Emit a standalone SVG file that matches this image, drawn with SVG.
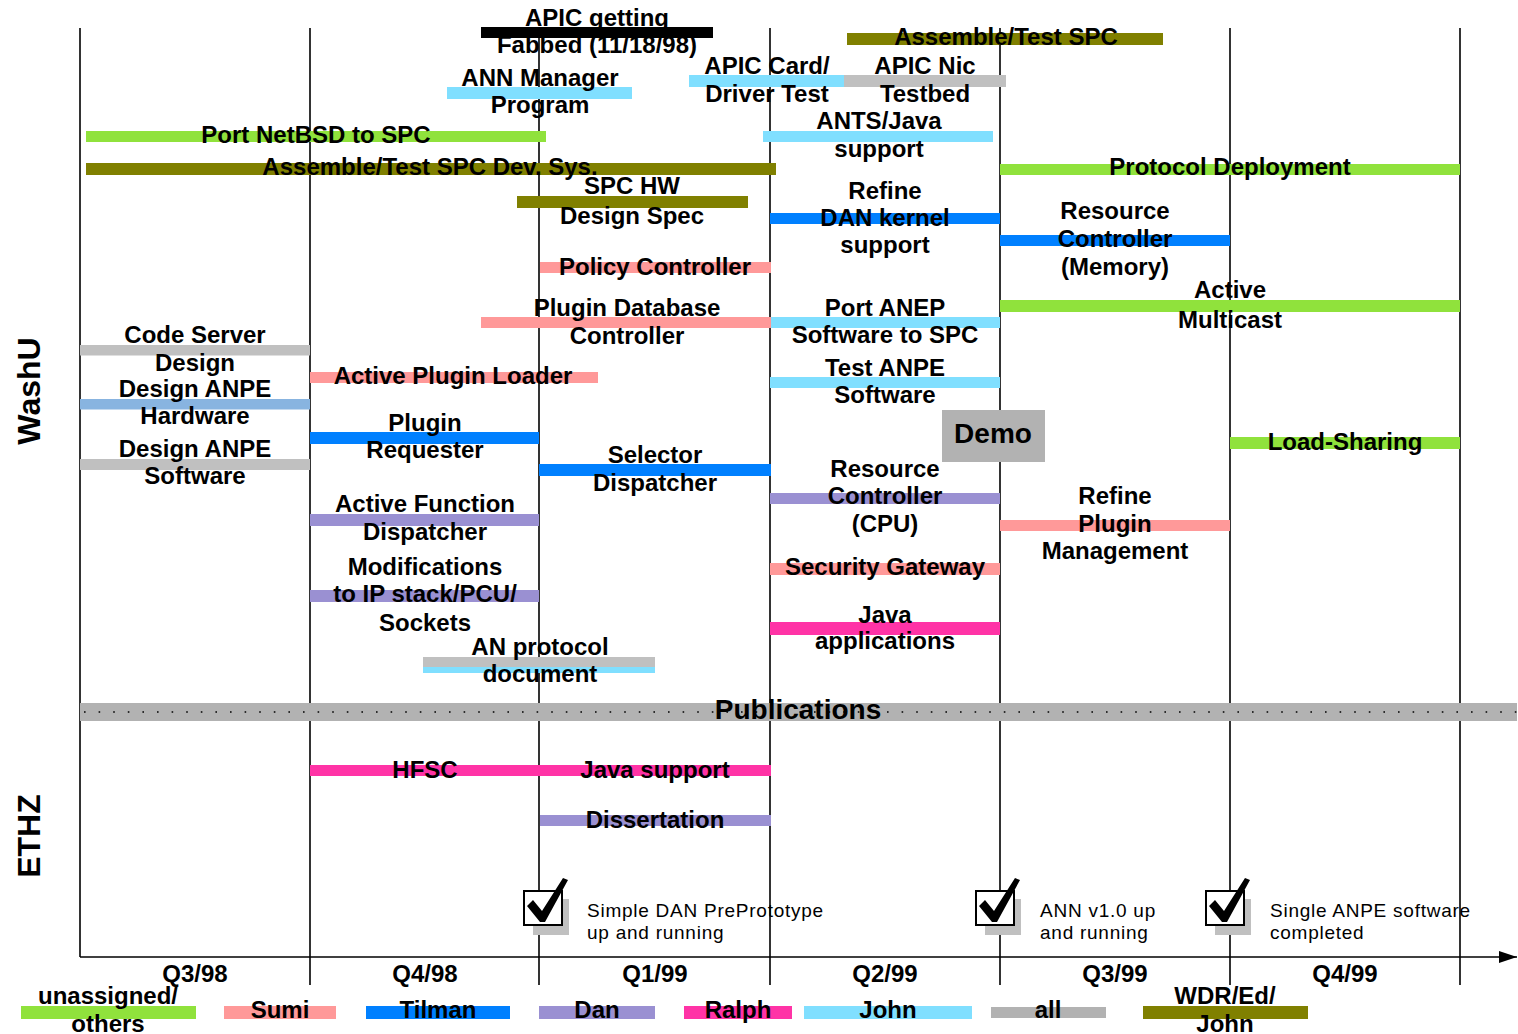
<svg xmlns="http://www.w3.org/2000/svg" xmlns:xlink="http://www.w3.org/1999/xlink" width="1518" height="1034" viewBox="0 0 1518 1034">
  <style>
    text { font-family: "Liberation Sans", Arial, sans-serif; fill: #000; }
    .lb { font-weight: bold; font-size: 24px; text-anchor: middle; }
    .side { font-weight: bold; font-size: 32px; text-anchor: middle; }
    .ms { font-size: 19px; letter-spacing: 0.75px; }
    .grid { stroke: #000; stroke-width: 1.6; fill: none; }
    .green { fill: #90E23C; }
    .olive { fill: #808000; }
    .pink { fill: #FF9999; }
    .blue { fill: #0080FF; }
    .purple { fill: #9A90D2; }
    .magenta { fill: #FF33A6; }
    .lblue { fill: #80DFFF; }
    .gray { fill: #C0C0C0; }
    .dgray { fill: #B2B2B2; }
    .steel { fill: #88B4E0; }
    .black { fill: #000; }
  </style>
  <defs>
    <marker id="arrow" markerWidth="18" markerHeight="12" refX="18" refY="6" orient="auto" markerUnits="userSpaceOnUse">
      <path d="M0,0 L18,6 L0,12 Z" fill="#000"/>
    </marker>
    <g id="check">
      <rect x="9" y="8" width="36" height="36" fill="#C0C0C0"/>
      <rect x="0" y="0" width="38" height="34" fill="#fff" stroke="#000" stroke-width="2"/>
      <path d="M3,15 L9,9 L18,20 L39,-13 L44,-11 L21,31 L16,31 Z" fill="#000"/>
    </g>
  </defs>

  <!-- quarter grid and time axis -->
  <g id="connectors">
    <line class="grid" x1="80" y1="28" x2="80" y2="957"/>
    <line class="grid" x1="310" y1="28" x2="310" y2="985"/>
    <line class="grid" x1="539" y1="28" x2="539" y2="985"/>
    <line class="grid" x1="770" y1="28" x2="770" y2="985"/>
    <line class="grid" x1="1000" y1="28" x2="1000" y2="985"/>
    <line class="grid" x1="1230" y1="28" x2="1230" y2="985"/>
    <line class="grid" x1="1460" y1="28" x2="1460" y2="985"/>
    <line class="grid" x1="80" y1="957" x2="1517" y2="957" marker-end="url(#arrow)"/>
  </g>

  <!-- quarter labels -->
  <g id="quarters">
    <text class="lb" x="195" y="982">Q3/98</text>
    <text class="lb" x="425" y="982">Q4/98</text>
    <text class="lb" x="655" y="982">Q1/99</text>
    <text class="lb" x="885" y="982">Q2/99</text>
    <text class="lb" x="1115" y="982">Q3/99</text>
    <text class="lb" x="1345" y="982">Q4/99</text>
  </g>

  <!-- section labels -->
  <g id="washu"><text class="side" transform="translate(40,391) rotate(-90)">WashU</text></g>
  <g id="ethz"><text class="side" transform="translate(40,836) rotate(-90)">ETHZ</text></g>

  <!-- WashU tasks -->
  <g id="apic-fab">
    <rect class="black" x="481" y="27" width="232" height="11"/>
    <text class="lb"><tspan x="597" y="26">APIC getting</tspan><tspan x="597" y="53">Fabbed (11/18/98)</tspan></text>
  </g>
  <g id="assemble-spc">
    <rect class="olive" x="847" y="33" width="316" height="12"/>
    <text class="lb" x="1006" y="45">Assemble/Test SPC</text>
  </g>
  <g id="ann-manager">
    <rect class="lblue" x="447" y="87" width="185" height="12"/>
    <text class="lb"><tspan x="540" y="86">ANN Manager</tspan><tspan x="540" y="113">Program</tspan></text>
  </g>
  <g id="apic-card">
    <rect class="lblue" x="689" y="75" width="155" height="12"/>
    <text class="lb"><tspan x="767" y="74">APIC Card/</tspan><tspan x="767" y="102">Driver Test</tspan></text>
  </g>
  <g id="apic-nic">
    <rect class="gray" x="844" y="75" width="162" height="12"/>
    <text class="lb"><tspan x="925" y="74">APIC Nic</tspan><tspan x="925" y="102">Testbed</tspan></text>
  </g>
  <g id="ants-java">
    <rect class="lblue" x="763" y="131" width="230" height="11"/>
    <text class="lb"><tspan x="879" y="129">ANTS/Java</tspan><tspan x="879" y="157">support</tspan></text>
  </g>
  <g id="port-netbsd">
    <rect class="green" x="86" y="131" width="460" height="11"/>
    <text class="lb" x="316" y="143">Port NetBSD to SPC</text>
  </g>
  <g id="assemble-devsys">
    <rect class="olive" x="86" y="163" width="690" height="12"/>
    <text class="lb" x="430" y="175">Assemble/Test SPC Dev. Sys.</text>
  </g>
  <g id="spc-hw">
    <rect class="olive" x="517" y="196" width="231" height="12"/>
    <text class="lb"><tspan x="632" y="194">SPC HW</tspan><tspan x="632" y="224">Design Spec</tspan></text>
  </g>
  <g id="protocol-deployment">
    <rect class="green" x="1000" y="164" width="460" height="11"/>
    <text class="lb" x="1230" y="175">Protocol Deployment</text>
  </g>
  <g id="dan-kernel">
    <rect class="blue" x="770" y="213" width="230" height="11"/>
    <text class="lb"><tspan x="885" y="199">Refine</tspan><tspan x="885" y="226">DAN kernel</tspan><tspan x="885" y="253">support</tspan></text>
  </g>
  <g id="rc-memory">
    <rect class="blue" x="1000" y="235" width="230" height="11"/>
    <text class="lb"><tspan x="1115" y="219">Resource</tspan><tspan x="1115" y="247">Controller</tspan><tspan x="1115" y="275">(Memory)</tspan></text>
  </g>
  <g id="policy-controller">
    <rect class="pink" x="540" y="262" width="231" height="11"/>
    <text class="lb" x="655" y="275">Policy Controller</text>
  </g>
  <g id="plugin-db">
    <rect class="pink" x="481" y="317" width="290" height="11"/>
    <text class="lb"><tspan x="627" y="316">Plugin Database</tspan><tspan x="627" y="344">Controller</tspan></text>
  </g>
  <g id="port-anep">
    <rect class="lblue" x="771" y="317" width="229" height="11"/>
    <text class="lb"><tspan x="885" y="316">Port ANEP</tspan><tspan x="885" y="343">Software to SPC</tspan></text>
  </g>
  <g id="active-multicast">
    <rect class="green" x="1000" y="300" width="460" height="12"/>
    <text class="lb"><tspan x="1230" y="298">Active</tspan><tspan x="1230" y="328">Multicast</tspan></text>
  </g>
  <g id="test-anpe">
    <rect class="lblue" x="770" y="377" width="230" height="11"/>
    <text class="lb"><tspan x="885" y="376">Test ANPE</tspan><tspan x="885" y="403">Software</tspan></text>
  </g>
  <g id="code-server">
    <rect class="gray" x="80" y="345" width="230" height="10.5"/>
    <text class="lb"><tspan x="195" y="343">Code Server</tspan><tspan x="195" y="371">Design</tspan></text>
  </g>
  <g id="anpe-hardware">
    <rect class="steel" x="80" y="399" width="230" height="10.5"/>
    <text class="lb"><tspan x="195" y="397">Design ANPE</tspan><tspan x="195" y="424">Hardware</tspan></text>
  </g>
  <g id="anpe-software">
    <rect class="gray" x="80" y="459" width="230" height="11"/>
    <text class="lb"><tspan x="195" y="457">Design ANPE</tspan><tspan x="195" y="484">Software</tspan></text>
  </g>
  <g id="plugin-loader">
    <rect class="pink" x="310" y="372" width="288" height="11"/>
    <text class="lb" x="453" y="384">Active Plugin Loader</text>
  </g>
  <g id="plugin-requester">
    <rect class="blue" x="310" y="432" width="229" height="12"/>
    <text class="lb"><tspan x="425" y="431">Plugin</tspan><tspan x="425" y="458">Requester</tspan></text>
  </g>
  <g id="selector-dispatcher">
    <rect class="blue" x="539" y="464" width="232" height="12"/>
    <text class="lb"><tspan x="655" y="463">Selector</tspan><tspan x="655" y="491">Dispatcher</tspan></text>
  </g>
  <g id="demo">
    <rect class="dgray" x="942" y="410" width="103" height="52"/>
    <text class="lb" x="993" y="443" style="font-size:28px">Demo</text>
  </g>
  <g id="load-sharing">
    <rect class="green" x="1230" y="437" width="230" height="12"/>
    <text class="lb" x="1345" y="450">Load-Sharing</text>
  </g>
  <g id="rc-cpu">
    <rect class="purple" x="770" y="493" width="230" height="11"/>
    <text class="lb"><tspan x="885" y="477">Resource</tspan><tspan x="885" y="504">Controller</tspan><tspan x="885" y="532">(CPU)</tspan></text>
  </g>
  <g id="function-dispatcher">
    <rect class="purple" x="310" y="514" width="229" height="12"/>
    <text class="lb"><tspan x="425" y="512">Active Function</tspan><tspan x="425" y="540">Dispatcher</tspan></text>
  </g>
  <g id="refine-plugin">
    <rect class="pink" x="1000" y="520" width="230" height="11"/>
    <text class="lb"><tspan x="1115" y="504">Refine</tspan><tspan x="1115" y="532">Plugin</tspan><tspan x="1115" y="559">Management</tspan></text>
  </g>
  <g id="security-gateway">
    <rect class="pink" x="770" y="563" width="230" height="12"/>
    <text class="lb" x="885" y="575">Security Gateway</text>
  </g>
  <g id="ip-stack">
    <rect class="purple" x="310" y="590" width="229" height="12"/>
    <text class="lb"><tspan x="425" y="575">Modifications</tspan><tspan x="425" y="602">to IP stack/PCU/</tspan><tspan x="425" y="631">Sockets</tspan></text>
  </g>
  <g id="java-apps">
    <rect class="magenta" x="770" y="622" width="230" height="13"/>
    <text class="lb"><tspan x="885" y="623">Java</tspan><tspan x="885" y="649">applications</tspan></text>
  </g>
  <g id="an-protocol">
    <rect class="gray" x="423" y="657" width="232" height="10"/>
    <rect class="lblue" x="423" y="667" width="232" height="6"/>
    <text class="lb"><tspan x="540" y="655">AN protocol</tspan><tspan x="540" y="682">document</tspan></text>
  </g>

  <!-- divider between the two sites -->
  <g id="publications">
    <rect class="dgray" x="80" y="703" width="1437" height="18"/>
    <line x1="84" y1="712" x2="1517" y2="712" stroke="#000" stroke-width="1.6" stroke-dasharray="1.6 13"/>
    <text class="lb" x="798" y="719" style="font-size:28px">Publications</text>
  </g>

  <!-- ETHZ tasks -->
  <g id="hfsc">
    <rect class="magenta" x="310" y="765" width="229" height="11"/>
    <text class="lb" x="425" y="778">HFSC</text>
  </g>
  <g id="java-support">
    <rect class="magenta" x="539" y="765" width="232" height="11"/>
    <text class="lb" x="655" y="778">Java support</text>
  </g>
  <g id="dissertation">
    <rect class="purple" x="540" y="815" width="231" height="11"/>
    <text class="lb" x="655" y="828">Dissertation</text>
  </g>

  <!-- milestones -->
  <g id="milestone-dan">
    <use xlink:href="#check" x="524" y="891"/>
    <text class="ms"><tspan x="587" y="917">Simple DAN PrePrototype</tspan><tspan x="587" y="939">up and running</tspan></text>
  </g>
  <g id="milestone-ann">
    <use xlink:href="#check" x="976" y="891"/>
    <text class="ms"><tspan x="1040" y="917">ANN v1.0 up</tspan><tspan x="1040" y="939">and running</tspan></text>
  </g>
  <g id="milestone-anpe">
    <use xlink:href="#check" x="1206" y="891"/>
    <text class="ms"><tspan x="1270" y="917">Single ANPE software</tspan><tspan x="1270" y="939">completed</tspan></text>
  </g>

  <!-- legend -->
  <g id="legend">
    <rect class="green" x="21" y="1006" width="175" height="13"/>
    <text class="lb"><tspan x="108" y="1004">unassigned/</tspan><tspan x="108" y="1032">others</tspan></text>
    <rect class="pink" x="224" y="1006" width="112" height="13"/>
    <text class="lb" x="280" y="1018">Sumi</text>
    <rect class="blue" x="366" y="1006" width="144" height="13"/>
    <text class="lb" x="438" y="1018">Tilman</text>
    <rect class="purple" x="539" y="1006" width="116" height="13"/>
    <text class="lb" x="597" y="1018">Dan</text>
    <rect class="magenta" x="684" y="1006" width="108" height="13"/>
    <text class="lb" x="738" y="1018">Ralph</text>
    <rect class="lblue" x="804" y="1006" width="168" height="13"/>
    <text class="lb" x="888" y="1018">John</text>
    <rect class="dgray" x="991" y="1007" width="115" height="11"/>
    <text class="lb" x="1048" y="1018">all</text>
    <rect class="olive" x="1143" y="1006" width="165" height="13"/>
    <text class="lb"><tspan x="1225" y="1004">WDR/Ed/</tspan><tspan x="1225" y="1032">John</tspan></text>
  </g>
</svg>
